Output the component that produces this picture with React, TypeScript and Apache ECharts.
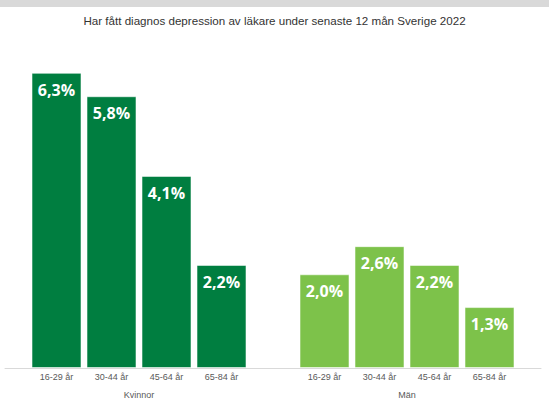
import React, { useEffect, useRef } from "react";
import * as echarts from "echarts";

const title = "Har fått diagnos depression av läkare under senaste 12 mån Sverige 2022";
const groups = ["Kvinnor", "Män"];
const ageGroups = ["16-29 år", "30-44 år", "45-64 år", "65-84 år"];
// values per age group: [Kvinnor, Män]
const values16_29 = [6.3, 2.0];
const values30_44 = [5.8, 2.6];
const values45_64 = [4.1, 2.2];
const values65_84 = [2.2, 1.3];
const seriesValues = [values16_29, values30_44, values45_64, values65_84];
const groupColors = ["#007E40", "#7DC24A"];

export default function App() {
  const ref = useRef<HTMLDivElement>(null);
  useEffect(() => {
    if (!ref.current) return;
    const chart = echarts.init(ref.current, null, { renderer: "svg" });
    const valueSeries = ageGroups.map((age, i) => ({
      type: "bar",
      name: age,
      xAxisIndex: 0,
      barWidth: 50,
      barGap: "10%",
      data: seriesValues[i].map((v, g) => ({
        value: v,
        itemStyle: { color: groupColors[g] },
      })),
      itemStyle: { borderColor: "rgba(255,255,255,0.55)", borderWidth: 1 },
      label: {
        show: true,
        position: "insideTop",
        distance: 9,
        color: "#FFFFFF",
        fontFamily: "Open Sans",
        fontWeight: "bold",
        fontSize: 16,
        formatter: (p: any) => p.value.toFixed(1).replace(".", ",") + "%",
      },
    }));
    const ageLabelSeries = ageGroups.map((age, i) => ({
      type: "bar",
      name: age + " label",
      xAxisIndex: 1,
      barWidth: 50,
      barGap: "10%",
      silent: true,
      data: seriesValues[i],
      itemStyle: { color: "rgba(0,0,0,0)" },
      label: {
        show: true,
        position: "bottom",
        distance: 4,
        color: "#595959",
        fontFamily: "Liberation Sans",
        fontSize: 9,
        formatter: () => age,
      },
    }));
    chart.setOption({
      animation: false,
      backgroundColor: "#FFFFFF",
      title: {
        text: title,
        left: "center",
        top: 9,
        textStyle: {
          fontFamily: "Liberation Sans",
          fontSize: 11.6,
          fontWeight: "normal",
          color: "#333333",
        },
      },
      graphic: [
        {
          type: "rect",
          left: 0,
          top: 0,
          shape: { width: 549, height: 7 },
          style: { fill: "#D9D9D9" },
        },
      ],
      grid: { left: 5, right: 8, top: 40, bottom: 34 },
      xAxis: [
        {
          type: "category",
          data: groups,
          axisLine: { lineStyle: { color: "#D9D9D9" } },
          axisTick: { show: false },
          axisLabel: {
            margin: 22,
            color: "#595959",
            fontFamily: "Liberation Sans",
            fontSize: 9,
          },
        },
        {
          type: "category",
          data: groups,
          show: false,
        },
      ],
      yAxis: {
        type: "value",
        min: 0,
        max: 7,
        show: false,
        splitLine: { show: false },
      },
      series: [...valueSeries, ...ageLabelSeries],
    });
    return () => chart.dispose();
  }, []);
  return (
    <div
      ref={ref}
      style={{ position: "fixed", left: 0, top: 0, width: 549, height: 402 }}
    />
  );
}
